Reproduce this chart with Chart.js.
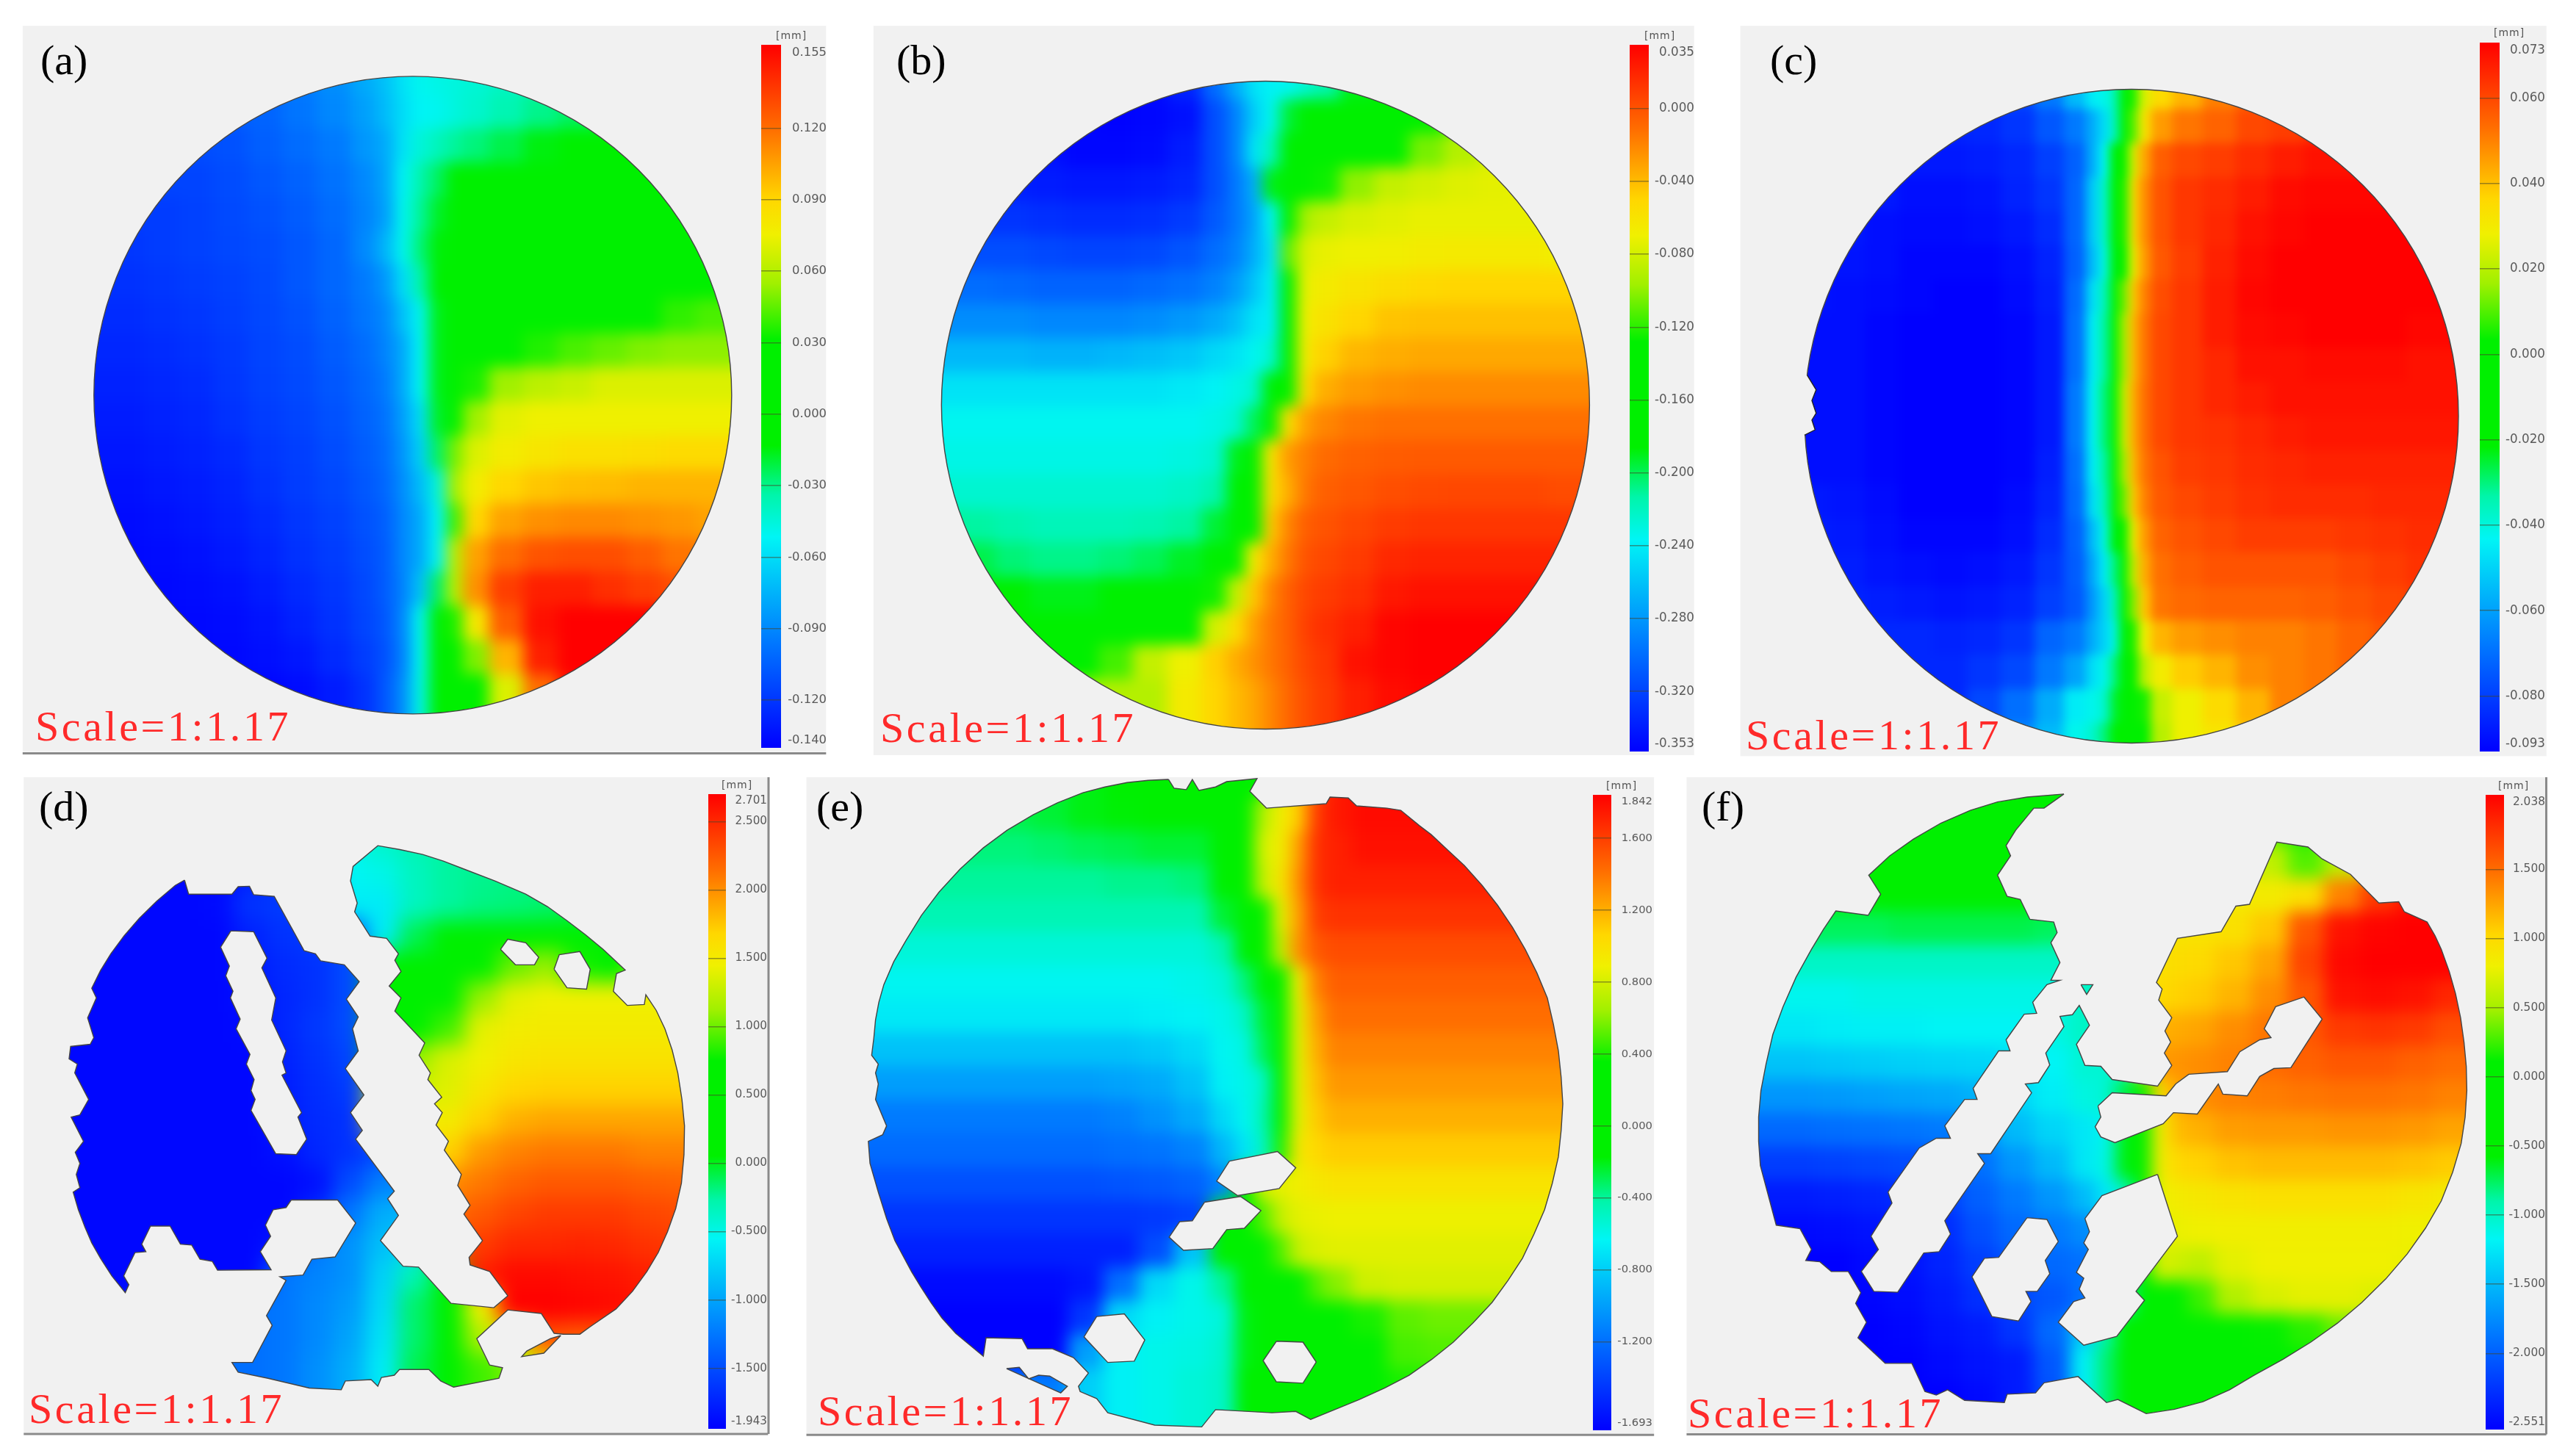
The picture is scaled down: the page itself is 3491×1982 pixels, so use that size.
<!DOCTYPE html>
<html>
<head>
<meta charset="utf-8">
<title>Displacement maps</title>
<script src="https://cdn.jsdelivr.net/npm/chart.js@4"></script>
<style>
  html, body { margin: 0; background: #fff; }
  #page { position: relative; width: 3491px; height: 1982px; overflow: hidden; }
  #page canvas { position: absolute; }
  .letter { position: absolute; font: 58px/58px "Liberation Serif", serif; color: #000; }
  .scale { position: absolute; font: 58px/58px "Liberation Serif", serif; letter-spacing: 3.6px; color: #ff2a2a; white-space: nowrap; }
  .unit { position: absolute; font: 14px/16px "DejaVu Sans", sans-serif; letter-spacing: 1px; color: #555; }
</style>
</head>
<body>
<div id="page"></div>
<script>
// Colour bar ticks, in mm
const ticksA = [0.155, 0.12, 0.09, 0.06, 0.03, 0, -0.03, -0.06, -0.09, -0.12, -0.14];
const ticksB = [0.035, 0, -0.04, -0.08, -0.12, -0.16, -0.2, -0.24, -0.28, -0.32, -0.353];
const ticksC = [0.073, 0.06, 0.04, 0.02, 0, -0.02, -0.04, -0.06, -0.08, -0.093];
const ticksD = [2.701, 2.5, 2, 1.5, 1, 0.5, 0, -0.5, -1, -1.5, -1.943];
const ticksE = [1.842, 1.6, 1.2, 0.8, 0.4, 0, -0.4, -0.8, -1.2, -1.693];
const ticksF = [2.038, 1.5, 1, 0.5, 0, -0.5, -1, -1.5, -2, -2.551];

const letters = ['(a)', '(b)', '(c)', '(d)', '(e)', '(f)'];
const scaleLabel = 'Scale=1:1.17';
const unitLabel = '[mm]';

// Shapes on a 1568 x 1568 frame
const circleA = [{ x: 766, y: 811, r: 434 }];
const circleB = [{ x: 739.5, y: 831.5, r: 441 }];
const circleC = [{ x: 750, y: 854, r: 445 }];
const notchC = [[126, 768], [138, 770], [155, 800], [147, 822], [155, 848], [147, 862], [153, 882], [133, 893], [126, 895]];

const outlineD = [[358,263],[366,295],[450,295],[462,278],[484,277],[492,296],[532,300],[590,423],[612,430],[622,446],[668,455],[697,493],[672,533],[695,573],[684,600],[695,650],[670,690],[706,750],[680,790],[703,830],[690,850],[765,968],[752,985],[773,1023],[738,1080],[782,1138],[812,1140],[875,1222],[958,1232],[985,1205],[950,1150],[912,1135],[910,1118],[936,1080],[900,1020],[912,1000],[888,955],[895,930],[862,875],[870,855],[846,818],[858,790],[843,770],[857,755],[830,715],[835,700],[813,660],[824,632],[766,560],[778,530],[755,503],[778,470],[766,445],[773,430],[750,395],[718,390],[688,335],[693,315],[680,265],[685,232],[733,185],[776,194],[820,205],[860,220],[900,238],[960,265],[1020,295],[1062,323],[1100,355],[1136,387],[1170,420],[1213,467],[1196,475],[1190,515],[1217,547],[1250,545],[1253,523],[1273,558],[1290,600],[1304,648],[1315,700],[1323,760],[1328,820],[1327,885],[1322,950],[1311,1007],[1295,1060],[1277,1107],[1255,1150],[1227,1195],[1195,1235],[1145,1275],[1125,1292],[1093,1292],[1075,1290],[1050,1245],[985,1237],[925,1302],[950,1362],[975,1368],[968,1392],[880,1412],[855,1398],[832,1372],[775,1372],[765,1385],[740,1390],[733,1410],[720,1395],[670,1398],[662,1418],[600,1414],[520,1392],[462,1378],[450,1356],[490,1356],[528,1272],[517,1250],[555,1170],[543,1162],[588,1158],[605,1122],[650,1117],[690,1040],[655,988],[565,988],[555,1005],[530,1010],[515,1045],[525,1070],[505,1105],[526,1146],[422,1147],[412,1127],[388,1122],[372,1090],[350,1088],[330,1047],[292,1047],[275,1088],[283,1105],[262,1107],[240,1160],[250,1180],[243,1198],[217,1160],[195,1120],[178,1085],[165,1050],[152,1010],[142,970],[155,960],[148,930],[155,905],[146,880],[162,855],[138,800],[155,795],[172,760],[145,700],[150,680],[134,668],[137,640],[175,635],[182,620],[170,575],[187,530],[178,508],[195,468],[215,430],[241,389],[270,350],[304,311],[340,275]];
const tipD = [[1088,1295],[1055,1335],[1012,1343],[1022,1330],[1068,1302]];
const holesD = [
  [[448,378],[492,380],[518,440],[508,462],[535,530],[527,580],[555,650],[548,675],[555,700],[547,705],[585,790],[578,800],[595,850],[575,885],[535,883],[487,785],[495,760],[487,740],[493,715],[478,680],[485,658],[458,600],[466,578],[447,530],[452,515],[438,480],[445,458],[428,415]],
  [[971,420],[985,397],[1020,405],[1045,438],[1037,455],[1000,455]],
  [[1075,465],[1085,432],[1125,425],[1145,465],[1138,510],[1100,507]]
];

const outlineE = [[665,35],[675,55],[697,58],[708,35],[720,60],[750,52],[770,40],[825,33],[812,62],[842,100],[950,90],[957,75],[990,77],[1005,95],[1060,100],[1085,105],[1119,140],[1140,160],[1170,195],[1200,230],[1232,275],[1260,320],[1287,370],[1310,420],[1331,473],[1350,530],[1361,590],[1370,650],[1375,710],[1378,770],[1375,830],[1370,890],[1359,950],[1345,1010],[1326,1065],[1305,1120],[1279,1170],[1250,1220],[1216,1266],[1180,1310],[1141,1349],[1100,1385],[1056,1414],[1010,1440],[967,1462],[922,1485],[895,1467],[852,1470],[750,1463],[725,1502],[640,1498],[555,1470],[535,1438],[505,1422],[502,1410],[520,1380],[493,1345],[455,1325],[410,1325],[400,1302],[335,1300],[330,1342],[280,1290],[255,1255],[235,1220],[217,1185],[200,1150],[170,1080],[155,1030],[140,970],[125,905],[122,855],[148,840],[155,820],[135,760],[140,725],[135,700],[140,680],[128,660],[132,620],[135,580],[141,540],[150,500],[168,448],[190,400],[218,343],[250,290],[288,238],[330,190],[373,150],[420,115],[464,88],[510,65],[550,52],[590,42],[628,37]];
const tipE = [[372,1370],[395,1367],[412,1393],[430,1385],[450,1387],[482,1410],[470,1425]];
const holesE = [
  [[775,900],[862,878],[895,915],[865,962],[790,978],[752,945]],
  [[730,993],[795,980],[832,1012],[802,1052],[770,1055],[745,1098],[692,1102],[666,1072],[685,1037],[708,1035]],
  [[535,1252],[585,1246],[622,1305],[603,1353],[555,1356],[512,1298]],
  [[860,1308],[908,1310],[932,1355],[908,1403],[860,1400],[836,1352]]
];

const outlineF = [[685,68],[650,100],[632,100],[600,150],[583,185],[591,208],[568,252],[585,300],[608,307],[625,352],[667,358],[673,382],[662,405],[678,450],[662,490],[678,490],[655,500],[630,540],[637,565],[615,567],[583,625],[590,650],[570,650],[525,735],[532,760],[510,760],[475,820],[485,848],[460,848],[430,870],[375,970],[382,995],[345,1070],[358,1100],[328,1150],[350,1195],[392,1197],[438,1108],[465,1105],[485,1065],[475,1035],[545,905],[533,883],[556,883],[628,745],[617,725],[640,722],[660,682],[653,655],[685,595],[678,572],[700,568],[712,547],[730,592],[707,635],[722,683],[750,685],[770,715],[850,730],[875,683],[862,655],[873,630],[863,605],[875,575],[852,535],[858,510],[848,495],[885,395],[962,380],[988,322],[1012,318],[1060,177],[1115,188],[1140,215],[1190,250],[1240,315],[1275,312],[1285,335],[1325,358],[1339,389],[1350,420],[1364,470],[1375,520],[1384,575],[1390,630],[1394,685],[1395,740],[1392,800],[1385,860],[1370,925],[1350,990],[1322,1052],[1290,1110],[1252,1167],[1210,1220],[1167,1267],[1120,1310],[1071,1349],[1020,1385],[977,1418],[930,1445],[880,1462],[830,1472],[780,1440],[760,1447],[710,1388],[650,1402],[635,1425],[585,1428],[580,1447],[510,1442],[480,1418],[460,1430],[440,1422],[417,1358],[370,1358],[322,1300],[337,1265],[318,1222],[327,1198],[305,1150],[275,1150],[255,1128],[230,1125],[240,1100],[220,1053],[178,1045],[150,910],[147,855],[147,800],[151,740],[160,680],[172,613],[190,550],[213,483],[240,420],[261,375],[283,333],[340,343],[362,295],[341,252],[378,208],[420,170],[468,134],[520,105],[568,86],[620,75]];
const tipF = [[715,500],[736,500],[725,522]];
const holesF = [
  [[745,775],[770,745],[865,752],[882,725],[905,703],[973,697],[995,652],[1030,625],[1050,620],[1038,600],[1058,550],[1108,528],[1140,578],[1085,688],[1055,690],[1030,708],[1008,752],[965,748],[957,725],[920,793],[878,790],[860,815],[775,858],[750,845],[740,822],[750,800]],
  [[620,1028],[655,1032],[675,1082],[652,1125],[660,1155],[638,1195],[618,1195],[627,1218],[605,1262],[558,1252],[523,1162],[545,1120],[570,1118]],
  [[850,930],[885,1070],[812,1195],[827,1215],[778,1297],[720,1317],[675,1265],[702,1218],[722,1210],[712,1190],[720,1165],[707,1152],[728,1100],[720,1085],[730,1060],[722,1030],[752,978]]
];

// Sampled displacement, one row per y. a-c are in 0.001 mm, d-f in 0.01 mm
const colsA = [170,234,298,362,426,490,554,618,682,714,746,778,810,842,874,938,1002,1066,1130,1194,1258,1322,1386];
const rowsA = [160,230,300,370,440,510,580,650,720,790,860,930,1000,1070,1140,1210,1280,1350,1420,1490];
const gridA = [
[-106,-106,-106,-106,-104,-100,-95,-88,-78,-70,-58,-50,-48,-46,-44,-40,-38,-36,-34,-34,-34,-34,-34],
[-108,-108,-108,-108,-106,-103,-97,-90,-82,-72,-60,-52,-50,-46,-42,-36,-30,-25,-22,-20,-20,-20,-20],
[-112,-112,-112,-112,-110,-105,-100,-95,-85,-78,-58,-45,-38,-32,-28,-22,-15,-10,-8,-5,0,0,0],
[-115,-115,-115,-115,-112,-108,-104,-98,-90,-80,-52,-35,-25,-12,-8,0,2,2,2,2,2,2,2],
[-118,-118,-118,-116,-113,-110,-106,-100,-92,-82,-50,-32,-18,-3,2,5,5,5,5,5,5,5,5],
[-120,-120,-118,-116,-114,-112,-108,-102,-90,-75,-50,-28,-14,3,5,10,10,10,10,10,10,10,10],
[-122,-122,-120,-118,-116,-113,-108,-102,-95,-85,-60,-35,-12,8,10,12,12,12,12,12,12,12,12],
[-124,-124,-122,-120,-117,-114,-110,-104,-97,-90,-70,-50,-16,10,15,15,15,18,22,28,38,42,42],
[-126,-126,-124,-122,-119,-115,-112,-106,-100,-92,-78,-52,-16,12,18,30,36,42,46,50,52,52,52],
[-128,-128,-126,-124,-120,-116,-113,-108,-102,-95,-78,-52,-16,20,35,55,62,65,70,70,70,70,70],
[-130,-130,-128,-126,-122,-118,-115,-110,-104,-98,-82,-60,-18,30,55,72,75,75,75,75,75,75,75],
[-132,-132,-130,-128,-125,-120,-117,-112,-106,-100,-85,-65,-25,48,70,78,82,85,85,86,88,88,88],
[-134,-134,-132,-130,-127,-122,-118,-114,-108,-102,-88,-72,-45,55,78,90,95,97,98,100,100,100,100],
[-136,-136,-134,-132,-129,-125,-120,-116,-110,-105,-90,-78,-52,40,90,105,110,112,112,110,108,105,105],
[-137,-137,-136,-134,-131,-127,-122,-118,-112,-106,-90,-78,-50,60,105,120,128,130,130,125,118,115,115],
[-138,-138,-137,-136,-134,-130,-125,-120,-114,-106,-92,-70,-25,60,110,135,145,145,140,135,130,130,130],
[-139,-139,-138,-137,-136,-133,-128,-122,-115,-108,-90,-50,-8,35,80,125,150,155,155,155,150,150,150],
[-140,-140,-139,-138,-137,-135,-132,-125,-118,-110,-92,-50,-10,25,50,100,145,155,155,155,155,155,155],
[-140,-140,-140,-139,-138,-138,-136,-130,-122,-108,-88,-48,-12,15,30,70,120,150,155,155,155,155,155],
[-140,-140,-140,-139,-138,-138,-136,-130,-122,-108,-88,-48,-12,15,30,70,120,150,155,155,155,155,155]
];

const colsB = [140,204,268,332,396,460,524,588,652,684,716,748,780,812,844,908,972,1036,1100,1164,1228,1292,1356];
const rowsB = [170,240,310,380,450,520,590,660,730,800,870,940,1010,1080,1150,1220,1290,1360,1430,1500];
const gridB = [
[-340,-340,-340,-345,-348,-350,-348,-335,-300,-270,-245,-238,-235,-225,-215,-190,-180,-175,-170,-170,-170,-170,-170],
[-345,-345,-345,-345,-350,-352,-350,-345,-315,-290,-255,-235,-195,-180,-178,-175,-170,-160,-115,-95,-90,-90,-90],
[-345,-345,-345,-345,-350,-350,-348,-340,-315,-290,-245,-220,-175,-170,-165,-155,-130,-105,-90,-80,-78,-78,-78],
[-338,-338,-338,-340,-342,-342,-340,-335,-315,-295,-270,-190,-160,-150,-125,-100,-85,-80,-76,-74,-72,-72,-72],
[-328,-328,-328,-330,-332,-332,-330,-325,-310,-295,-275,-235,-130,-95,-85,-78,-75,-72,-72,-72,-72,-72,-72],
[-315,-315,-315,-318,-320,-320,-318,-312,-300,-290,-270,-245,-110,-78,-72,-70,-68,-66,-65,-65,-65,-68,-68],
[-300,-300,-302,-305,-305,-305,-302,-298,-290,-278,-260,-240,-130,-72,-65,-60,-55,-52,-50,-50,-50,-50,-50],
[-285,-285,-285,-288,-288,-288,-285,-280,-272,-262,-245,-240,-150,-68,-58,-50,-43,-42,-42,-42,-42,-42,-42],
[-265,-265,-265,-268,-268,-265,-262,-258,-250,-245,-235,-225,-160,-65,-48,-38,-35,-33,-33,-33,-33,-33,-33],
[-245,-245,-245,-245,-245,-245,-245,-242,-238,-232,-225,-170,-140,-55,-35,-28,-24,-22,-22,-22,-22,-22,-22],
[-235,-235,-235,-235,-235,-235,-235,-235,-232,-225,-200,-150,-55,-30,-20,-14,-12,-12,-12,-12,-12,-12,-12],
[-232,-232,-232,-232,-232,-232,-232,-230,-225,-190,-165,-60,-28,-18,-10,-6,-4,-3,-3,-3,-3,-3,-3],
[-225,-225,-225,-225,-225,-225,-225,-222,-215,-185,-165,-55,-35,-15,-5,-2,2,4,5,5,5,3,3],
[-210,-212,-215,-218,-218,-218,-216,-212,-195,-170,-140,-45,-20,-5,0,5,10,12,12,12,12,12,12],
[-195,-198,-205,-208,-208,-205,-200,-192,-165,-140,-65,-35,-15,0,5,10,18,20,20,20,20,20,20],
[-180,-180,-185,-190,-190,-186,-180,-170,-125,-85,-45,-20,-5,5,10,15,25,28,28,28,28,28,28],
[-170,-170,-170,-170,-170,-170,-165,-150,-80,-55,-30,-15,-5,8,15,22,33,35,35,35,35,35,35],
[-170,-170,-170,-170,-170,-115,-85,-70,-48,-35,-25,-15,-5,5,12,28,33,35,35,35,35,35,35],
[-90,-90,-90,-90,-90,-90,-90,-65,-50,-40,-32,-20,-8,2,10,22,30,33,33,33,33,33,33],
[-90,-90,-90,-90,-90,-90,-90,-65,-50,-40,-32,-20,-8,2,10,22,30,33,33,33,33,33,33]
];

const colsC = [150,214,278,342,406,470,534,598,650,680,698,716,734,752,770,800,850,914,978,1042,1106,1170,1234,1298,1362];
const rowsC = [190,260,330,400,470,540,610,680,750,820,890,960,1030,1100,1170,1240,1310,1380,1450,1520];
const gridC = [
[-85,-85,-85,-85,-85,-82,-78,-68,-55,-45,-42,-35,-15,5,25,35,42,50,55,58,60,60,60,60,60],
[-86,-86,-86,-86,-86,-85,-82,-75,-68,-58,-48,-36,-8,10,32,46,52,55,60,62,65,66,66,66,66],
[-87,-87,-88,-88,-88,-87,-85,-80,-73,-58,-43,-12,0,25,44,56,60,62,65,68,70,70,70,70,70],
[-87,-88,-88,-90,-90,-89,-86,-82,-72,-52,-38,-15,5,33,48,58,63,65,68,71,72,72,72,72,72],
[-88,-88,-90,-91,-91,-90,-88,-84,-72,-52,-38,-15,5,33,48,58,63,66,70,72,73,73,73,73,73],
[-88,-89,-90,-92,-92,-92,-90,-86,-73,-55,-41,-22,2,29,46,57,62,67,71,73,73,73,73,73,73],
[-89,-90,-91,-92,-93,-93,-91,-87,-71,-48,-36,-8,12,38,50,59,63,68,72,73,73,73,73,73,73],
[-90,-90,-92,-93,-93,-93,-92,-88,-70,-45,-33,-4,17,41,52,60,63,68,71,72,73,73,73,72,72],
[-90,-90,-92,-93,-93,-93,-92,-88,-70,-45,-33,-4,17,41,52,60,63,66,70,70,71,71,71,70,70],
[-90,-90,-92,-93,-93,-93,-92,-88,-68,-44,-30,-2,22,43,53,60,63,66,68,70,70,70,70,70,70],
[-90,-90,-92,-93,-93,-93,-92,-88,-68,-44,-30,-2,22,43,53,60,63,64,66,68,69,69,69,69,69],
[-90,-90,-92,-93,-93,-93,-92,-87,-70,-45,-33,-4,17,41,52,58,62,63,65,66,67,67,67,67,67],
[-88,-89,-91,-93,-93,-93,-91,-86,-71,-48,-36,-8,12,38,50,57,60,62,64,65,65,65,66,66,66],
[-87,-88,-90,-92,-92,-92,-90,-84,-73,-55,-41,-22,2,29,46,55,58,60,62,62,62,63,64,65,65],
[-86,-87,-89,-90,-91,-90,-88,-82,-74,-59,-45,-30,-2,22,43,53,56,58,58,58,58,60,62,64,64],
[-85,-86,-87,-88,-89,-88,-86,-80,-75,-62,-50,-36,-5,14,39,52,54,55,55,55,56,58,60,62,62],
[-85,-85,-85,-85,-86,-85,-82,-72,-68,-58,-50,-41,-12,5,28,42,46,48,50,50,52,55,58,60,60],
[-85,-85,-85,-85,-85,-82,-78,-68,-60,-48,-42,-30,-8,2,20,30,38,42,48,50,52,55,58,58,58],
[-85,-85,-85,-85,-85,-78,-70,-58,-45,-42,-38,-25,-10,0,5,22,28,35,42,50,52,55,55,55,55],
[-85,-85,-85,-80,-75,-70,-65,-55,-42,-38,-30,-18,-8,-5,0,20,28,32,40,48,50,52,52,52,52]
];

const colsD = [100,164,228,292,356,420,484,548,612,676,740,804,868,932,996,1060,1124,1188,1252,1316];
const rowsD = [180,250,320,390,460,530,600,670,740,810,880,950,1020,1090,1160,1230,1300,1370,1440];
const gridD = [
[-190,-190,-190,-190,-190,-190,-190,-190,-180,-50,-40,-30,-25,-25,-25,-25,-25,-25,-25,-25],
[-190,-190,-190,-190,-190,-190,-175,-170,-170,-55,-50,-35,-25,-22,-20,-20,-20,-15,-15,-15],
[-190,-190,-190,-190,-190,-188,-165,-160,-165,-60,-60,-35,-25,-20,-18,-15,-10,0,10,20],
[-190,-190,-190,-190,-190,-190,-175,-165,-160,-150,-60,-10,15,30,25,10,5,30,60,100],
[-190,-190,-190,-190,-190,-190,-180,-170,-165,-150,20,40,45,70,100,110,80,60,110,150],
[-190,-190,-190,-190,-190,-190,-185,-172,-165,-150,40,45,60,110,140,145,145,145,145,145],
[-190,-190,-190,-190,-190,-190,-188,-172,-162,-150,45,50,90,140,148,150,150,150,150,150],
[-190,-190,-190,-190,-190,-190,-190,-175,-165,-155,60,110,135,145,155,158,158,158,158,158],
[-190,-190,-190,-190,-190,-190,-190,-178,-168,-160,130,130,138,155,168,170,170,170,170,170],
[-190,-190,-190,-190,-190,-190,-190,-180,-170,-165,150,150,150,170,185,190,190,190,190,190],
[-190,-190,-190,-190,-190,-190,-190,-185,-172,-165,-150,170,170,195,205,210,210,210,205,205],
[-190,-190,-190,-190,-190,-190,-190,-190,-185,-150,-120,-110,200,210,220,225,225,225,222,220],
[-190,-190,-190,-190,-190,-190,-190,-190,-170,-125,-95,-90,215,225,235,240,240,240,235,232],
[-190,-190,-190,-190,-190,-190,-190,-180,-125,-110,-85,-70,225,240,250,250,252,250,245,240],
[-190,-190,-190,-190,-190,-190,-190,-125,-118,-110,-75,-30,40,255,265,265,262,260,255,250],
[-190,-190,-190,-130,-130,-130,-130,-125,-115,-105,-70,-15,40,145,270,270,268,265,260,260],
[-130,-130,-130,-130,-130,-130,-130,-125,-115,-100,-65,-15,50,120,150,230,225,225,225,225],
[-130,-130,-130,-130,-130,-130,-130,-125,-112,-95,-60,-10,65,90,105,150,150,150,150,150],
[-130,-130,-130,-130,-130,-130,-130,-125,-112,-95,-60,-10,65,90,105,150,150,150,150,150]
];

const colsE = [130,194,258,322,386,450,514,578,642,706,770,802,834,866,898,930,962,1026,1090,1154,1218,1282,1346];
const rowsE = [40,116,192,268,344,420,496,572,648,724,800,876,952,1028,1104,1180,1256,1332,1408,1484];
const gridE = [
[-35,-35,-35,-35,-30,-25,-20,-15,-10,-5,10,15,30,80,110,150,175,180,180,180,180,180,180],
[-32,-32,-32,-30,-28,-25,-20,-18,-14,-8,5,10,70,90,110,160,175,180,180,180,180,180,180],
[-35,-35,-35,-35,-35,-33,-30,-28,-25,-25,0,25,80,90,125,165,172,178,178,178,178,178,178],
[-40,-40,-40,-40,-40,-40,-40,-38,-38,-35,-10,5,75,95,130,165,172,172,172,172,172,172,172],
[-45,-45,-45,-45,-45,-45,-45,-45,-45,-45,-25,-5,30,85,125,160,165,165,165,165,165,165,165],
[-55,-55,-55,-55,-55,-55,-55,-55,-55,-55,-45,-15,0,75,130,150,155,155,155,155,155,155,155],
[-62,-62,-62,-62,-62,-62,-62,-62,-62,-60,-55,-35,-5,20,90,135,148,148,148,148,148,148,148],
[-68,-68,-68,-68,-68,-68,-68,-68,-66,-64,-60,-50,-25,5,85,125,142,142,142,142,142,142,142],
[-85,-85,-85,-85,-85,-85,-85,-85,-82,-75,-62,-58,-30,-5,85,120,135,135,135,135,135,135,135],
[-100,-100,-100,-100,-100,-100,-100,-98,-95,-85,-65,-60,-50,-5,85,115,128,128,128,128,128,128,128],
[-115,-115,-115,-115,-115,-115,-115,-112,-105,-95,-75,-62,-45,20,85,110,120,120,120,120,120,120,120],
[-122,-122,-122,-122,-122,-122,-122,-120,-118,-112,-90,-70,-50,40,95,105,110,110,110,110,110,110,110],
[-134,-134,-134,-134,-134,-134,-134,-132,-130,-126,-110,-5,80,85,90,95,98,98,98,98,98,98,98],
[-146,-146,-146,-146,-146,-146,-146,-146,-144,-140,0,10,50,75,85,87,88,88,88,88,88,88,88],
[-155,-155,-155,-155,-155,-155,-155,-155,-135,-85,-10,5,20,50,75,82,84,84,84,84,84,84,84],
[-165,-165,-165,-165,-165,-165,-160,-120,-75,-60,-40,-5,15,20,30,50,60,78,80,80,80,80,80],
[-169,-169,-169,-169,-169,-169,-145,-75,-65,-60,-55,-20,5,15,20,22,25,40,52,55,55,55,55],
[-169,-169,-169,-169,-169,-169,-100,-65,-60,-58,-52,-20,5,12,15,18,20,35,48,50,50,50,50],
[-115,-115,-115,-115,-115,-115,-80,-65,-60,-55,-50,-15,0,10,15,18,20,30,40,40,40,40,40],
[-115,-115,-115,-115,-115,-115,-80,-65,-60,-55,-50,-15,0,10,15,18,20,30,40,40,40,40,40]
];

const colsF = [150,214,278,342,406,470,534,598,662,726,758,790,822,854,886,918,982,1046,1110,1174,1238,1302,1366];
const rowsF = [70,146,222,298,374,450,526,602,678,754,830,906,982,1058,1134,1210,1286,1362,1438];
const gridF = [
[-30,-30,-30,-30,-30,-30,-30,-30,-30,-30,-30,100,100,100,100,100,100,20,20,40,60,80,100],
[-30,-30,-30,-30,-30,-30,-30,-30,-30,-30,-30,100,100,100,100,100,100,25,15,50,80,100,120],
[-35,-35,-35,-30,-30,-30,-28,-28,-28,-28,-28,100,100,100,100,100,95,60,30,60,100,130,150],
[-50,-50,-50,-45,-45,-45,-45,-45,-48,-50,-50,100,100,100,98,95,85,85,95,140,175,195,200],
[-75,-75,-75,-75,-72,-72,-72,-72,-75,-80,-80,90,90,90,91,92,95,110,160,195,202,204,204],
[-100,-100,-100,-100,-100,-100,-100,-100,-100,-100,-100,95,95,95,98,100,110,125,170,200,204,204,204],
[-115,-115,-115,-112,-112,-112,-112,-112,-112,-100,-100,90,95,100,105,108,118,135,160,195,198,195,185],
[-125,-125,-122,-120,-120,-118,-118,-118,-110,-100,-100,100,110,120,122,125,135,145,160,175,178,175,165],
[-145,-145,-142,-140,-138,-136,-135,-130,-118,-105,-105,-100,100,130,132,135,140,150,155,160,160,155,150],
[-170,-170,-168,-165,-162,-160,-155,-135,-122,-110,-105,-70,-10,100,125,135,140,142,145,147,147,145,140],
[-195,-195,-192,-190,-188,-185,-175,-150,-135,-125,-115,-60,0,85,115,120,128,130,130,132,132,130,125],
[-220,-220,-218,-215,-212,-205,-190,-170,-150,-125,-112,-60,0,85,102,105,112,115,115,115,115,112,108],
[-240,-240,-238,-235,-230,-220,-200,-185,-170,-150,-125,-100,-20,80,85,88,92,95,95,95,95,90,85],
[-250,-250,-248,-245,-240,-230,-210,-195,-185,-175,-165,-150,-100,75,78,80,82,82,82,82,82,80,78],
[-255,-255,-255,-250,-245,-235,-220,-205,-195,-190,-180,-170,-50,70,65,60,75,80,80,80,80,78,75],
[-255,-255,-255,-252,-248,-240,-228,-215,-205,-190,-150,-100,-50,-15,5,25,55,70,75,75,72,70,65],
[-255,-255,-255,-255,-252,-245,-240,-225,-195,-140,-90,-45,-35,-30,-15,-5,5,12,20,35,45,45,45],
[-255,-255,-255,-255,-255,-250,-245,-240,-205,-120,-80,-45,-40,-35,-30,-25,-15,-8,-3,0,5,5,5],
[-255,-255,-255,-255,-255,-255,-250,-240,-210,-120,-80,-45,-40,-35,-32,-30,-25,-20,-15,-10,-5,-5,-5]
];

// Same rainbow for every panel, t = 0 at the bottom of the bar
const colorStops = [
  [0, [0, 0, 255]], [0.15, [0, 120, 255]], [0.30, [0, 245, 245]], [0.36, [0, 245, 170]],
  [0.43, [0, 240, 0]], [0.58, [0, 240, 0]], [0.66, [160, 240, 0]], [0.73, [240, 240, 0]],
  [0.78, [255, 215, 0]], [0.88, [255, 110, 0]], [1, [255, 0, 0]]
];
const panelGrey = '#f1f1f1';
const FRAME = 1568;

function colorAt(t) {
  t = Math.max(0, Math.min(1, t));
  for (let i = 1; i < colorStops.length; i++) {
    if (t <= colorStops[i][0]) {
      const [t0, c0] = colorStops[i - 1];
      const [t1, c1] = colorStops[i];
      const k = (t - t0) / (t1 - t0);
      return 'rgb(' + c0.map((c, j) => Math.round(c + (c1[j] - c) * k)).join(',') + ')';
    }
  }
  return 'rgb(255,0,0)';
}

// crop: where the 1568 frame sits on the page. bg: grey panel in frame units.
// bar: colour bar in page pixels [left, top, right, bottom]
const panels = [
  { crop: [0, 0, 1150, 1040], bg: [42, 53, 1533, 1543], lines: [[42, 1546, 1533, 1546]], cols: colsA, rows: rowsA, grid: gridA, unit: 1000, ticks: ticksA, circle: circleA, holes: [], sigma: 10, bar: [1036, 61, 1063, 1018], font: 16.4, axisW: 62, letterAt: [55, 53], scaleAt: [48, 960], unitAt: [1056, 40] },
  { crop: [1180, 0, 1150, 1040], bg: [12, 53, 1535, 1550], lines: [], cols: colsB, rows: rowsB, grid: gridB, unit: 1000, ticks: ticksB, circle: circleB, holes: [], sigma: 10, bar: [2218, 61, 2244, 1023], font: 16.8, axisW: 62, letterAt: [1220, 53], scaleAt: [1198, 962], unitAt: [2238, 40] },
  { crop: [2360, 0, 1131, 1040], bg: [12, 53, 1533, 1552], lines: [], cols: colsC, rows: rowsC, grid: gridC, unit: 1000, ticks: ticksC, circle: circleC, holes: [], cut: notchC, sigma: 7, bar: [3375, 58, 3402, 1023], font: 16.8, axisW: 62, letterAt: [2409, 53], scaleAt: [2376, 972], unitAt: [3394, 36] },
  { crop: [0, 1040, 1100, 942], bg: [46, 30, 1490, 1515], lines: [[46, 1518, 1490, 1518], [1491, 30, 1491, 1518]], cols: colsD, rows: rowsD, grid: gridD, unit: 100, ticks: ticksD, outline: outlineD, tip: tipD, holes: holesD, sigma: 14, bar: [964, 1081, 988, 1945], font: 15.2, axisW: 56, letterAt: [53, 1069], scaleAt: [39, 1889], unitAt: [982, 1060] },
  { crop: [1090, 1040, 1180, 942], bg: [10, 30, 1543, 1518], lines: [[10, 1520, 1543, 1520]], cols: colsE, rows: rowsE, grid: gridE, unit: 100, ticks: ticksE, outline: outlineE, tip: tipE, holes: holesE, sigma: 11, bar: [2168, 1082, 2193, 1947], font: 14.8, axisW: 56, letterAt: [1111, 1069], scaleAt: [1113, 1892], unitAt: [2186, 1061] },
  { crop: [2280, 1040, 1211, 942], bg: [20, 30, 1535, 1518], lines: [[20, 1519, 1535, 1519], [1535, 30, 1535, 1519]], cols: colsF, rows: rowsF, grid: gridF, unit: 100, ticks: ticksF, outline: outlineF, tip: tipF, holes: holesF, sigma: 11, bar: [3383, 1082, 3408, 1946], font: 15.4, axisW: 56, letterAt: [2316, 1069], scaleAt: [2297, 1895], unitAt: [3400, 1061] }
];

function pathOf(chart, pts, open) {
  const { x, y } = chart.scales;
  const ctx = chart.ctx;
  pts.forEach((p, i) => {
    const px = x.getPixelForValue(p[0]), py = y.getPixelForValue(p[1]);
    if (i === 0) ctx.moveTo(px, py); else ctx.lineTo(px, py);
  });
  if (!open) ctx.closePath();
}

// Soften the cells, then cut them to the specimen shape and put the grey panel behind
function maskPlugin(p) {
  return {
    id: 'specimenMask',
    beforeDatasetDraw(chart, args) {
      if (chart.$masked || args.meta.type === 'bar') return;
      chart.$masked = true;
      const ctx = chart.ctx, { x, y } = chart.scales;
      const w = chart.canvas.width, h = chart.canvas.height;
      const copy = document.createElement('canvas');
      copy.width = w; copy.height = h;
      copy.getContext('2d').drawImage(chart.canvas, 0, 0);
      ctx.save();
      ctx.filter = 'blur(' + p.sigma + 'px)';
      ctx.drawImage(copy, 0, 0);
      ctx.filter = 'none';
      ctx.globalCompositeOperation = 'destination-out';
      ctx.beginPath();
      ctx.rect(0, 0, w, h);
      if (p.circle) {
        const c = p.circle[0], cx = x.getPixelForValue(c.x), cy = y.getPixelForValue(c.y);
        ctx.moveTo(cx + c.r, cy);
        ctx.arc(cx, cy, c.r, 0, Math.PI * 2);
      }
      if (p.outline) pathOf(chart, p.outline);
      if (p.tip) pathOf(chart, p.tip);
      p.holes.forEach(hole => pathOf(chart, hole));
      ctx.fill('evenodd');
      ctx.globalCompositeOperation = 'destination-over';
      ctx.fillStyle = panelGrey;
      const [l, t, r, b] = p.bg;
      ctx.fillRect(x.getPixelForValue(l), y.getPixelForValue(t), x.getPixelForValue(r) - x.getPixelForValue(l), y.getPixelForValue(b) - y.getPixelForValue(t));
      ctx.restore();
    },
    afterDatasetsDraw(chart) {
      const ctx = chart.ctx, { x, y } = chart.scales;
      ctx.save();
      if (p.cut) {
        ctx.beginPath();
        pathOf(chart, p.cut);
        ctx.fillStyle = panelGrey;
        ctx.fill();
        ctx.beginPath();
        pathOf(chart, p.cut.slice(1, -1), true);
        ctx.strokeStyle = '#222';
        ctx.lineWidth = 1.4;
        ctx.stroke();
      }
      ctx.strokeStyle = '#8a8a8a';
      ctx.lineWidth = 3;
      p.lines.forEach(l => {
        ctx.beginPath();
        ctx.moveTo(x.getPixelForValue(l[0]), y.getPixelForValue(l[1]));
        ctx.lineTo(x.getPixelForValue(l[2]), y.getPixelForValue(l[3]));
        ctx.stroke();
      });
      ctx.restore();
    }
  };
}

function fieldDatasets(p) {
  const hi = p.ticks[0], lo = p.ticks[p.ticks.length - 1];
  const scaleX = p.crop[2] / FRAME;
  const n = p.rows.length;
  const sets = p.cols.map((cx, ci) => {
    const left = ci > 0 ? cx - p.cols[ci - 1] : 60;
    const right = ci < p.cols.length - 1 ? p.cols[ci + 1] - cx : 60;
    const edge = (ci === 0 || ci === p.cols.length - 1) ? 2 : 1;
    const width = Math.max(left, right) * edge;
    return {
      type: 'bar',
      stack: 'field',
      order: 1 + width, // wide cells first, narrow ones over them
      barThickness: width * scaleX + 1.5,
      borderWidth: 0,
      data: p.rows.map((ry, ri) => {
        const up = ri > 0 ? (ry - p.rows[ri - 1]) / 2 : 80;
        const down = ri < n - 1 ? (p.rows[ri + 1] - ry) / 2 : 80;
        return { x: cx, y: [ry - up - 1, ry + down + 1] };
      }),
      backgroundColor: p.grid.map(row => colorAt((row[ci] / p.unit - lo) / (hi - lo)))
    };
  });
  const line = pts => ({
    type: 'line',
    order: 0,
    data: pts.concat([pts[0]]),
    borderColor: '#444',
    borderWidth: 1.4,
    pointRadius: 0,
    fill: false,
    tension: 0
  });
  if (p.circle) {
    sets.push({ type: 'bubble', order: 0, data: p.circle, borderColor: '#444', borderWidth: 1.4, backgroundColor: 'transparent' });
  } else {
    sets.push(line(p.outline), line(p.tip));
  }
  p.holes.forEach(h => sets.push(line(h)));
  return sets;
}

function addCanvas(left, top, w, h) {
  const c = document.createElement('canvas');
  c.width = w; c.height = h;
  c.style.left = left + 'px';
  c.style.top = top + 'px';
  document.getElementById('page').appendChild(c);
  return c;
}

function addText(cls, text, at) {
  const d = document.createElement('div');
  d.className = cls;
  d.textContent = text;
  d.style.left = at[0] + 'px';
  d.style.top = at[1] + 'px';
  document.getElementById('page').appendChild(d);
}

panels.forEach((p, i) => {
  const [cl, ct, cw, ch] = p.crop;
  new Chart(addCanvas(cl, ct, cw, ch), {
    type: 'bar',
    data: { datasets: fieldDatasets(p) },
    options: {
      responsive: false,
      animation: false,
      events: [],
      layout: { padding: 0, autoPadding: false },
      plugins: { legend: { display: false }, tooltip: { enabled: false } },
      scales: {
        x: { type: 'linear', min: 0, max: FRAME, offset: false, display: false },
        y: { type: 'linear', min: 0, max: FRAME, reverse: true, stacked: false, display: false }
      }
    },
    plugins: [maskPlugin(p)]
  });

  // Colour bar with its own value axis
  const [bl, bt, br, bb] = p.bar;
  const hi = p.ticks[0], lo = p.ticks[p.ticks.length - 1];
  const inset = (hi - lo) * 0.011;
  const last = p.ticks.length - 1;
  new Chart(addCanvas(bl, bt, br - bl + p.axisW, bb - bt), {
    type: 'bar',
    data: {
      labels: ['bar'],
      datasets: [{
        data: [[lo, hi]],
        borderWidth: 0,
        barPercentage: 1,
        categoryPercentage: 1,
        backgroundColor(ctx) {
          const area = ctx.chart.chartArea;
          if (!area) return '#888';
          const g = ctx.chart.ctx.createLinearGradient(0, area.bottom, 0, area.top);
          colorStops.forEach(s => g.addColorStop(s[0], 'rgb(' + s[1].join(',') + ')'));
          return g;
        }
      }]
    },
    options: {
      responsive: false,
      animation: false,
      events: [],
      layout: { padding: 0 },
      plugins: { legend: { display: false }, tooltip: { enabled: false } },
      scales: {
        x: { display: false },
        y: {
          position: 'right',
          min: lo,
          max: hi,
          border: { display: false },
          afterBuildTicks(scale) {
            scale.ticks = p.ticks.map((v, k) => ({ value: k === 0 ? v - inset : k === last ? v + inset : v }));
          },
          afterFit(scale) {
            scale.width = p.axisW;
            scale.paddingTop = 0;
            scale.paddingBottom = 0;
          },
          grid: {
            z: 1,
            drawTicks: false,
            color: ctx => (ctx.index === 0 || ctx.index === last) ? 'rgba(0,0,0,0)' : 'rgba(70,70,40,0.55)',
            lineWidth: 1.5
          },
          ticks: {
            autoSkip: false,
            maxRotation: 0,
            padding: 4,
            crossAlign: 'far',
            color: '#5a5a5a',
            font: { family: 'DejaVu Sans', size: p.font },
            callback: (v, k) => p.ticks[k].toFixed(3)
          }
        }
      }
    }
  });

  addText('letter', letters[i], p.letterAt);
  addText('scale', scaleLabel, p.scaleAt);
  addText('unit', unitLabel, p.unitAt);
});
</script>
</body>
</html>
